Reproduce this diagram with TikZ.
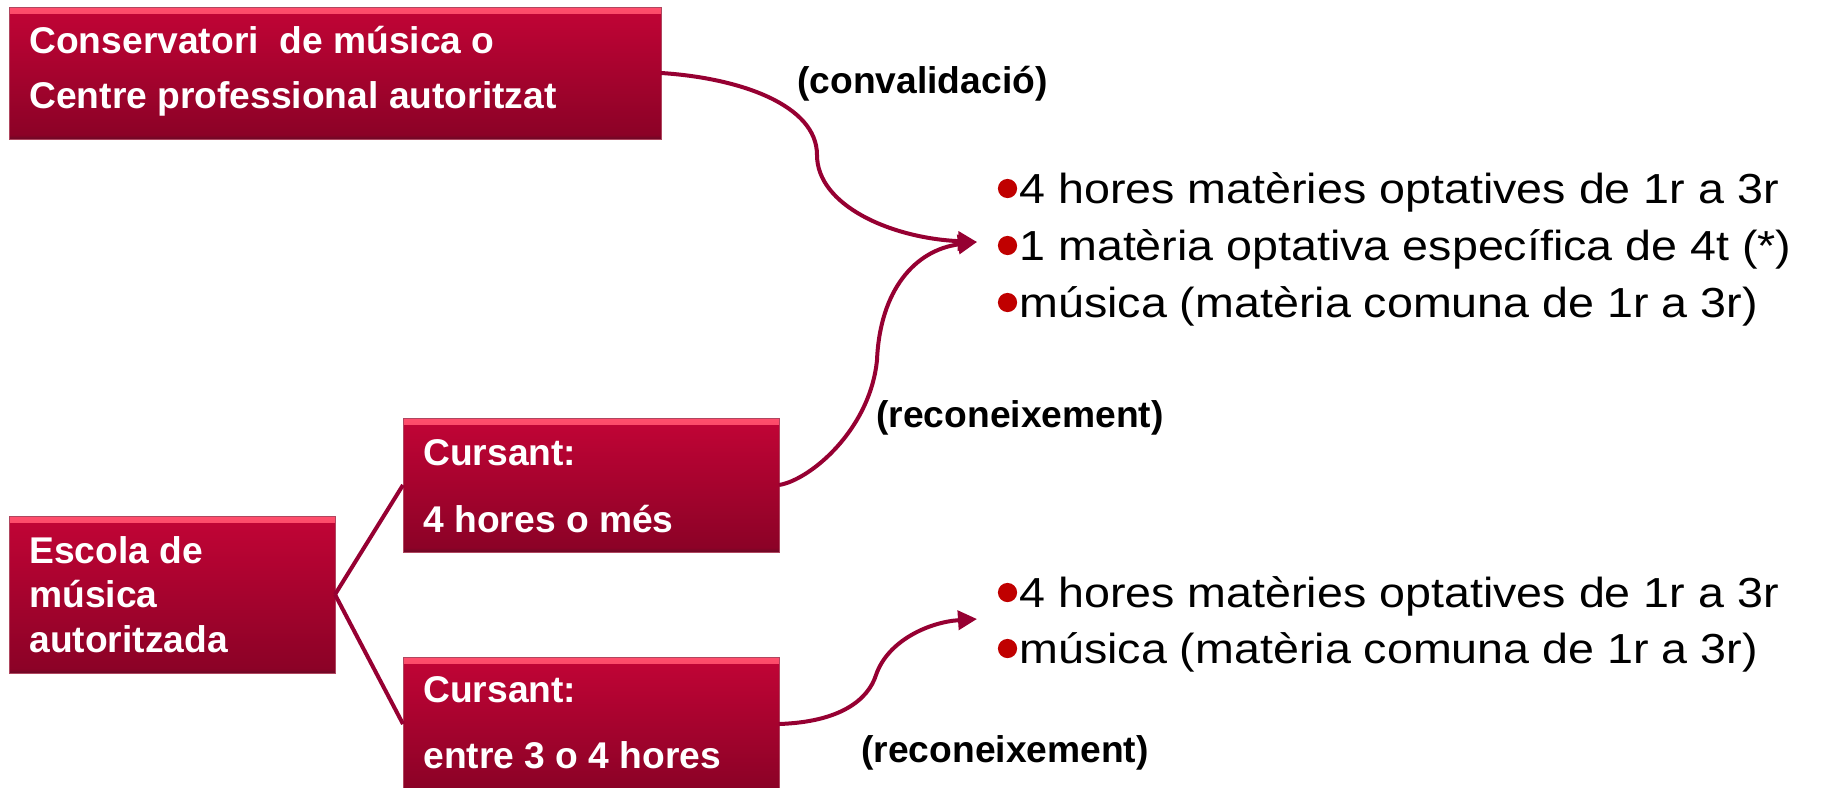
\documentclass[tikz,border=0pt]{standalone}
\usepackage{fontspec}
\setmainfont{Liberation Sans}
\newfontfamily\bulfont[FakeStretch=1.11]{Liberation Sans}
\usetikzlibrary{arrows.meta}
\definecolor{boxtop}{RGB}{194,4,54}
\definecolor{boxbot}{RGB}{138,2,38}
\definecolor{bevlight}{RGB}{255,78,108}
\definecolor{bevdark}{RGB}{105,10,38}
\definecolor{boxedge}{RGB}{175,70,95}
\definecolor{conncol}{RGB}{150,0,50}
\definecolor{bulred}{RGB}{192,0,0}
\newcommand\mystrut{\rule{0pt}{15pt}}
\newcommand\mystrutb{\rule{0pt}{18pt}}
\begin{document}
\begin{tikzpicture}[x=0.5pt,y=-0.5pt,
  redbox/.style={draw=boxedge, line width=0.4pt, top color=boxtop, bottom color=boxbot,
    inner sep=0pt, outer sep=0pt, anchor=north west,
    path picture={
      \shade[top color=bevlight, bottom color=boxtop]
        (path picture bounding box.north west) rectangle ([yshift=-3pt]path picture bounding box.north east);
      \shade[top color=boxbot, bottom color=bevdark]
        ([yshift=2pt]path picture bounding box.south west) rectangle (path picture bounding box.south east);
    }},
  btext/.style={text=white, font=\fontsize{18.6}{#1}\selectfont\bfseries,
    inner sep=0pt, anchor=north west, align=left},
  lab/.style={font=\fontsize{18.6}{22}\selectfont\bfseries, inner sep=0pt, anchor=base west},
  blist/.style={font=\bulfont\fontsize{21}{#1}\selectfont, inner sep=0pt, anchor=north west, align=left},
  conn/.style={draw=conncol, line width=2pt},
  arr/.style={conn, -{Triangle[length=9.5pt,width=9.5pt]}},
  bdot/.style={fill=bulred}
]
\useasboundingbox (0,0) rectangle (1829,787);

% boxes
\node[redbox, minimum width=326pt, minimum height=66pt] (cons) at (9,7) {};
\node[redbox, minimum width=188pt, minimum height=67pt] (cur1) at (403,418) {};
\node[redbox, minimum width=163pt, minimum height=78.5pt] (esc) at (9,516) {};
\node[redbox, minimum width=188pt, minimum height=67pt] (cur2) at (403,657) {};

% box texts
\node[btext=27.5pt] (consT) at (29,23) {\mystrut Conservatori\ \ de música o\\\mystrut Centre professional autoritzat};
\node[btext=33.5pt] (cur1T) at (423,435) {\mystrut Cursant:\\\mystrut 4 hores o més};
\node[btext=22.25pt] (escT) at (29,533) {\mystrut Escola de\\\mystrut música\\\mystrut autoritzada};
\node[btext=33pt] (cur2T) at (423,672) {\mystrut Cursant:\\\mystrut entre 3 o 4 hores};

% labels
\node[lab] (conv) at (797,93) {(convalidació)};
\node[lab] (rec1) at (876,427) {(reconeixement)};
\node[lab] (rec2) at (861,762) {(reconeixement)};

% bullet lists
\node[blist=28.5pt] (list1) at (1019,167) {\mystrutb 4 hores matèries optatives de 1r a 3r\\\mystrutb 1 matèria optativa específica de 4t (*)\\\mystrutb música (matèria comuna de 1r a 3r)};
\node[blist=28pt] (list2) at (1019,571) {\mystrutb 4 hores matèries optatives de 1r a 3r\\\mystrutb música (matèria comuna de 1r a 3r)};
\fill[bdot] (1007.5,188.5) circle[radius=4.8pt];
\fill[bdot] (1007.5,245.5) circle[radius=4.8pt];
\fill[bdot] (1007.5,302.5) circle[radius=4.8pt];
\fill[bdot] (1007.5,592.5) circle[radius=4.8pt];
\fill[bdot] (1007.5,648.5) circle[radius=4.8pt];

% arrow targets
\coordinate (tip1) at (977,242);
\coordinate (tip2) at (977,619);

% connectors
\draw[conn] (esc.east) -- (cur1.west);
\draw[conn] (esc.east) -- (cur2.west);
\draw[arr] (cons.east) .. controls (740,78) and (817,105) .. (817,155)
  .. controls (817,205) and (890,238) .. (tip1);
\draw[arr] (cur1.east) .. controls (810,480) and (870,430) .. (877,360)
  .. controls (880,290) and (915,250) .. (tip1);
\draw[arr] (cur2.east) .. controls (840,722) and (868,700) .. (876,675)
  .. controls (888,640) and (930,622) .. (tip2);
\end{tikzpicture}
\end{document}
